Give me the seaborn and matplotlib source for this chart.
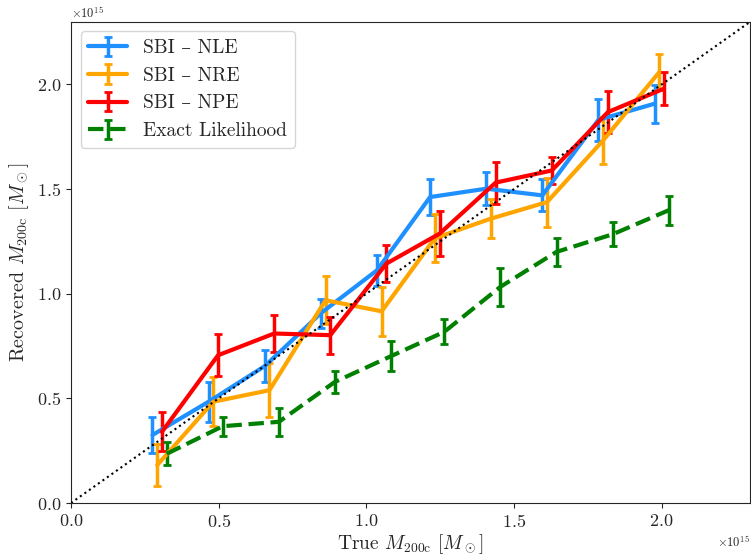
import numpy as np
import pandas as pd
import seaborn as sns
import matplotlib.pyplot as plt

sns.set_style('ticks')
plt.rcParams['font.family'] = ['cmr10', 'DejaVu Serif']
plt.rcParams['mathtext.fontset'] = 'cm'
plt.rcParams['axes.formatter.use_mathtext'] = True
plt.rcParams['axes.unicode_minus'] = False

# true halo masses (units of 1e15 Msun)
m_true = [0.30, 0.49, 0.68, 0.87, 1.06, 1.24, 1.43, 1.62, 1.81, 2.00]

# recovered masses and 1-sigma errors (units of 1e15 Msun)
nle = [0.325, 0.484, 0.654, 0.907, 1.112, 1.462, 1.502, 1.470, 1.831, 1.908]
nle_err = [0.084, 0.095, 0.076, 0.069, 0.074, 0.086, 0.080, 0.077, 0.100, 0.090]
nre = [0.181, 0.484, 0.539, 0.969, 0.916, 1.265, 1.359, 1.438, 1.733, 2.059]
nre_err = [0.100, 0.117, 0.130, 0.115, 0.118, 0.115, 0.095, 0.117, 0.113, 0.086]
npe = [0.340, 0.706, 0.810, 0.802, 1.144, 1.287, 1.531, 1.589, 1.868, 1.980]
npe_err = [0.093, 0.100, 0.087, 0.089, 0.087, 0.106, 0.100, 0.065, 0.100, 0.080]
exact = [0.235, 0.367, 0.388, 0.579, 0.702, 0.818, 1.033, 1.200, 1.284, 1.399]
exact_err = [0.055, 0.046, 0.067, 0.053, 0.072, 0.060, 0.092, 0.068, 0.057, 0.069]

labels = ['SBI – NLE', 'SBI – NRE', 'SBI – NPE', 'Exact Likelihood']
colors = ['dodgerblue', 'orange', 'red', 'green']
styles = ['-', '-', '-', '--']
shifts = [-0.024, -0.008, 0.008, 0.024]

scale = 1e15
fig, ax = plt.subplots(figsize=(7.51, 5.56), dpi=100)
fig.subplots_adjust(left=0.0945, right=0.999, bottom=0.0953, top=0.961)

series = [(nle, nle_err), (nre, nre_err), (npe, npe_err), (exact, exact_err)]
for (y, yerr), lab, c, ls, dx in zip(series, labels, colors, styles, shifts):
    x = (np.array(m_true) + dx) * scale
    ax.errorbar(x, np.array(y) * scale, yerr=np.array(yerr) * scale,
                color=c, ls=ls, lw=3, elinewidth=2.5, capsize=3, capthick=2,
                label=lab)

# one-to-one line
ref = pd.DataFrame({'x': [0, 2.3 * scale], 'y': [0, 2.3 * scale]})
sns.lineplot(data=ref, x='x', y='y', ax=ax, color='black', ls=':', lw=1.5, zorder=5)

ax.set_xlim(0, 2.3 * scale)
ax.set_ylim(0, 2.3 * scale)
ax.set_xticks(np.array([0, 0.5, 1.0, 1.5, 2.0]) * scale)
ax.set_yticks(np.array([0, 0.5, 1.0, 1.5, 2.0]) * scale)
ax.tick_params(labelsize=13)
ax.xaxis.get_offset_text().set_fontsize(9)
ax.yaxis.get_offset_text().set_fontsize(9)

ax.set_xlabel(r'True $M_{\rm 200c}$ $[M_\odot]$', fontsize=14, labelpad=2)
ax.set_ylabel(r'Recovered $M_{\rm 200c}$ $[M_\odot]$', fontsize=14.5)
ax.legend(loc='upper left', fontsize=14)

fig.savefig('out.png', dpi=100)
